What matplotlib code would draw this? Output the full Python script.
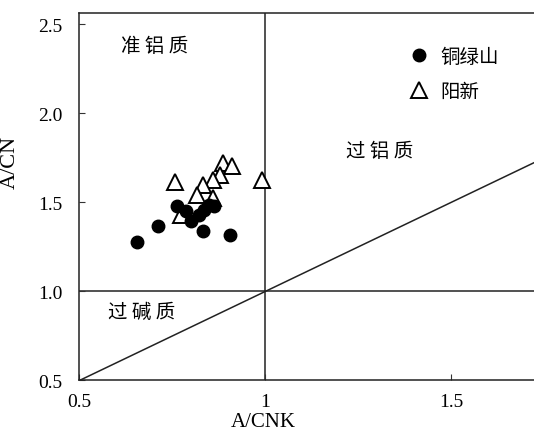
import matplotlib
matplotlib.use('Agg')
import matplotlib.pyplot as plt

plt.rcParams['font.family'] = ['Liberation Serif', 'Noto Sans CJK SC']

# A/CNK and A/CN values for the two groups of samples
tonglvshan_acnk = [0.655, 0.711, 0.762, 0.787, 0.800, 0.821, 0.835, 0.848, 0.862, 0.832, 0.905]
tonglvshan_acn = [1.278, 1.368, 1.480, 1.452, 1.396, 1.430, 1.458, 1.486, 1.480, 1.340, 1.317]
yangxin_acnk = [0.757, 0.886, 0.910, 0.878, 0.859, 0.832, 0.816, 0.859, 0.773, 0.991]
yangxin_acn = [1.615, 1.722, 1.705, 1.654, 1.626, 1.598, 1.542, 1.525, 1.430, 1.626]

series_names = ['铜绿山', '阳新']
x_ticks = [0.5, 1.0, 1.5]
x_tick_labels = ['0.5', '1', '1.5']
y_ticks = [0.5, 1.0, 1.5, 2.0, 2.5]
y_tick_labels = ['0.5', '1.0', '1.5', '2.0', '2.5']

cjk = ['Noto Sans CJK SC', 'DejaVu Sans']

fig = plt.figure(figsize=(5.34, 4.35), dpi=100)
ax = fig.add_axes([0.1487, 0.123, 0.8513, 0.8457])
x_max = 1.722
ax.set_xlim(0.5, x_max)
ax.set_ylim(0.5, 2.564)

# field boundaries
ax.axvline(1.0, color='#222222', lw=1.1, zorder=1)
ax.axhline(1.0, color='#222222', lw=1.1, zorder=1)
ax.plot([0.5, x_max], [0.5, x_max], color='#222222', lw=1.1, zorder=1)

ax.plot(tonglvshan_acnk, tonglvshan_acn, 'o', ms=9, color='black',
        mec='black', label=series_names[0], zorder=3)
ax.plot(yangxin_acnk, yangxin_acn, '^', ms=11, mfc='white', mec='black',
        mew=1.4, label=series_names[1], zorder=2)

ax.text(0.703, 2.379, '准 铝 质', family=cjk, fontsize=14, ha='center', va='center')
ax.text(1.308, 1.789, '过 铝 质', family=cjk, fontsize=14, ha='center', va='center')
ax.text(0.666, 0.890, '过 碱 质', family=cjk, fontsize=14, ha='center', va='center')

leg = ax.legend(loc='upper left', bbox_to_anchor=(0.705, 0.93), frameon=False,
                prop={'family': cjk, 'size': 14}, handletextpad=0.5,
                labelspacing=0.7, handlelength=1.2, borderaxespad=0)

ax.set_xticks(x_ticks)
ax.set_xticklabels(x_tick_labels)
ax.set_yticks(y_ticks)
ax.set_yticklabels(y_tick_labels)
ax.tick_params(direction='in', length=4, width=0.8, labelsize=14, color='#333333')
ax.tick_params(axis='x', pad=9)
ax.tick_params(axis='y', pad=12)

ax.spines['right'].set_visible(False)
for side in ('left', 'top', 'bottom'):
    ax.spines[side].set_linewidth(1.1)
    ax.spines[side].set_color('#222222')

ax.set_xlabel('A/CNK', fontsize=15)
ax.xaxis.set_label_coords(0.404, -0.086)
ax.set_ylabel('A/CN', fontsize=16)
ax.yaxis.set_label_coords(-0.131, 0.595)

fig.savefig('out.png', dpi=100)
